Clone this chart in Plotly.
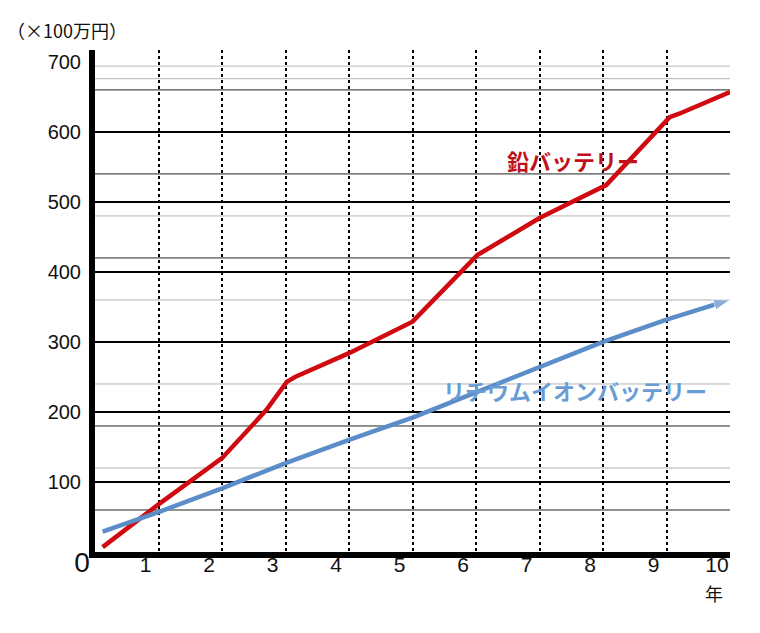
import plotly.graph_objects as go

# 鉛バッテリー (lead battery) cumulative cost, x100万円
lead_x = [0.12, 1, 2, 2.7, 3.02, 3.15, 4, 5, 6.02, 7, 8.05, 9.05, 9.2, 10]
lead_y = [7, 68, 134, 203, 243, 250, 284, 329, 424, 477, 524, 621, 626, 657]

# リチウムイオンバッテリー (lithium-ion battery)
li_x = [0.12, 1, 2, 3, 4, 5, 6, 7, 8, 9, 10]
li_y = [29, 57, 91, 127, 160, 192, 228, 264, 300, 332, 360]

x_ticks = [0, 1, 2, 3, 4, 5, 6, 7, 8, 9, 10]
y_ticks = [100, 200, 300, 400, 500, 600, 700]

# the grid in the original is a mix of heavy, thin and grey lines
grid_major = [100, 200, 300, 400, 500, 600]
grid_thin = [60, 180, 420, 540, 660]
grid_grey = [120, 240, 360, 480, 676, 694]
grid_years = [1, 2, 3, 4, 5, 6, 7, 8, 9]

LATIN = "Liberation Sans, Arial, sans-serif"
JP = "Noto Sans CJK JP, sans-serif"
RED = "#cf0a10"
BLUE = "#5b8dc9"

fig = go.Figure()

fig.add_trace(
    go.Scatter(
        x=lead_x,
        y=lead_y,
        mode="lines",
        line=dict(color=RED, width=4.5),
        name="鉛バッテリー",
    )
)
fig.add_trace(
    go.Scatter(
        x=li_x,
        y=li_y,
        mode="lines+markers",
        line=dict(color=BLUE, width=4.5),
        marker=dict(
            symbol="arrow",
            angleref="previous",
            size=[0] * (len(li_x) - 1) + [17],
            color=BLUE,
        ),
        name="リチウムイオンバッテリー",
    )
)

shapes = []
for v in grid_grey:
    shapes.append(dict(type="line", xref="paper", yref="y", x0=0, x1=1, y0=v, y1=v,
                       line=dict(color="#b4b4b4", width=1), layer="below"))
for v in grid_thin:
    shapes.append(dict(type="line", xref="paper", yref="y", x0=0, x1=1, y0=v, y1=v,
                       line=dict(color="#222222", width=1), layer="below"))
for v in grid_major:
    shapes.append(dict(type="line", xref="paper", yref="y", x0=0, x1=1, y0=v, y1=v,
                       line=dict(color="black", width=2), layer="below"))

tick_text = ['<span style="font-size:28px">0</span>'] + [str(t) for t in x_ticks[1:]]

# page body has an 8px margin, so the figure is a little smaller than the window
fig.update_layout(
    width=752,
    height=625,
    margin={"l": 87, "r": 30, "t": 42, "b": 81},
    paper_bgcolor="white",
    plot_bgcolor="white",
    showlegend=False,
    shapes=shapes,
    font=dict(family=LATIN, color="#111111", size=20),
    xaxis=dict(
        range=[0, 10],
        tickvals=x_ticks,
        ticktext=tick_text,
        ticks="",
        tickfont=dict(size=21),
        ticklabelshift=-13,
        ticklabelstandoff=-11,
        showgrid=False,
        zeroline=False,
        showline=True,
        linecolor="black",
        linewidth=6,
        minor=dict(tickvals=grid_years, showgrid=True, gridcolor="black",
                   gridwidth=2, griddash="dot", ticks=""),
    ),
    yaxis=dict(
        range=[0, 717],
        tickvals=y_ticks,
        ticks="",
        ticklabelstandoff=4,
        showgrid=False,
        zeroline=False,
        showline=True,
        linecolor="black",
        linewidth=6,
    ),
    annotations=[
        dict(text="（×100万円）", xref="paper", yref="paper", x=-0.142, y=1.04,
             xanchor="left", yanchor="middle", showarrow=False,
             font=dict(family=JP, size=18, color="#111111")),
        dict(text="年", xref="paper", yref="paper", x=0.975, y=-0.081,
             xanchor="center", yanchor="middle", showarrow=False,
             font=dict(family=JP, size=18, color="#111111")),
        dict(text="<b>鉛バッテリー</b>", x=7.53, y=560, showarrow=False,
             font=dict(family=JP, size=22, color="#c0101a")),
        dict(text="<b>リチウムイオンバッテリー</b>", x=7.56, y=232, showarrow=False,
             font=dict(family=JP, size=22, color="#6a9cd4")),
    ],
)

fig.write_html("out.html")
